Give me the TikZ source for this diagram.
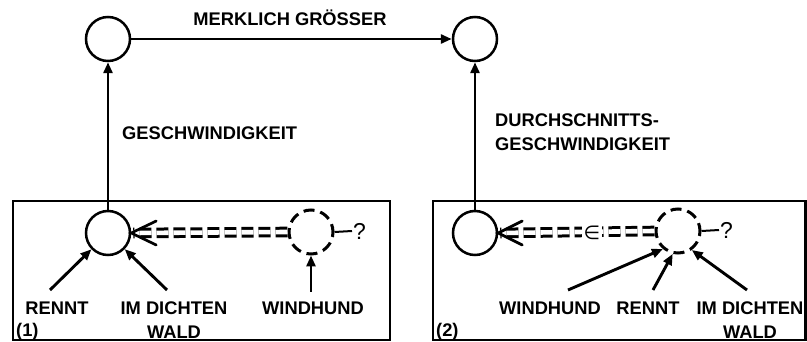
\documentclass[tikz,border=0pt]{standalone}
\usepackage{fontspec}
\setmainfont{Liberation Sans}
\newfontfamily\symfont{DejaVu Sans}
\usetikzlibrary{arrows.meta}
\tikzset{
  circ/.style={circle,draw,line width=2.5pt,minimum size=44pt,inner sep=0pt},
  dcirc/.style={circle,draw,line width=3pt,minimum size=44pt,inner sep=0pt,dash pattern=on 11pt off 6pt,dash phase=3pt},
  arr/.style={line width=2.9pt,-{Triangle[length=11pt,width=9pt]}},
  dline/.style={line width=3pt,double,double distance=4.6pt,dash pattern=on 12pt off 5pt},
  barb/.style={line width=2.7pt,line cap=round},
  qline/.style={line width=2pt},
  boxst/.style={line width=2.8pt},
  lbl/.style={font=\fontsize{18.3}{23.5}\selectfont\bfseries,inner sep=0pt},
  qm/.style={font=\fontsize{23}{24}\selectfont,inner sep=1pt},
}
\begin{document}
\begin{tikzpicture}[x=1pt,y=-1pt]
\useasboundingbox (0,0) rectangle (807,342);
% boxes
\draw[boxst] (13,201) rectangle (390,340);
\draw[boxst] (433,201) rectangle (805.5,340);
% top circles
\node[circ] (t1) at (108,39) {};
\node[circ] (t2) at (475,39) {};
\draw[arr] (t1) -- (t2);
\node[lbl,anchor=base] (merk) at (290,26) {MERKLICH GRÖSSER};
% box 1
\node[circ] (c1) at (108,233) {};
\node[dcirc] (dc1) at (311,232) {};
\draw[arr] (c1) -- (t1);
\node[lbl,anchor=base west] (gesch) at (122,140) {GESCHWINDIGKEIT};
\draw[dline] (dc1.west) -- ([xshift=2pt]c1.east);
\draw[barb] ([shift={(25,-12)}]c1.east) -- (c1.east) -- ([shift={(25,12)}]c1.east);
\node[qm,anchor=west] (q1) at (352,231) {?};
\draw[qline] (dc1.east) -- (q1.west);
\coordinate (r1) at (50,290);
\coordinate (w1) at (167,290);
\coordinate (h1) at (311,292);
\draw[arr] (r1) -- (c1);
\draw[arr] (w1) -- (c1);
\draw[arr] (h1) -- (dc1);
\node[lbl,anchor=base] (lr1) at (57,315) {RENNT};
\node[lbl,anchor=north,align=center] (lw1) at (174,302) {IM DICHTEN\\WALD};
\node[lbl,anchor=base] (lh1) at (313,315) {WINDHUND};
\node[lbl,anchor=base west] (n1) at (16,336) {(1)};
% box 2
\node[circ] (c2) at (475,233) {};
\node[dcirc] (dc2) at (678,231) {};
\draw[arr] (c2) -- (t2);
\node[lbl,anchor=north west,align=left] (durch) at (495,114) {DURCHSCHNITTS-\\GESCHWINDIGKEIT};
\draw[dline] (dc2.west) -- ([xshift=2pt]c2.east);
\node[fill=white,inner sep=1.5pt,font=\symfont\fontsize{19}{20}\selectfont] (el) at (592,232.5) {∈};
\draw[barb] ([shift={(24,-12)}]c2.east) -- (c2.east) -- ([shift={(24,12)}]c2.east);
\node[qm,anchor=west] (q2) at (719,230) {?};
\draw[qline] (dc2.east) -- (q2.west);
\coordinate (h2) at (568,290);
\coordinate (r2) at (653,290);
\coordinate (w2) at (747,290);
\draw[arr] (h2) -- (dc2.230);
\draw[arr] (r2) -- (dc2.257);
\draw[arr] (w2) -- (dc2.306);
\node[lbl,anchor=base] (lh2) at (550,315) {WINDHUND};
\node[lbl,anchor=base] (lr2) at (648,315) {RENNT};
\node[lbl,anchor=north,align=center] (lw2) at (750,302) {IM DICHTEN\\WALD};
\node[lbl,anchor=base west] (n2) at (436,336) {(2)};
\end{tikzpicture}
\end{document}
